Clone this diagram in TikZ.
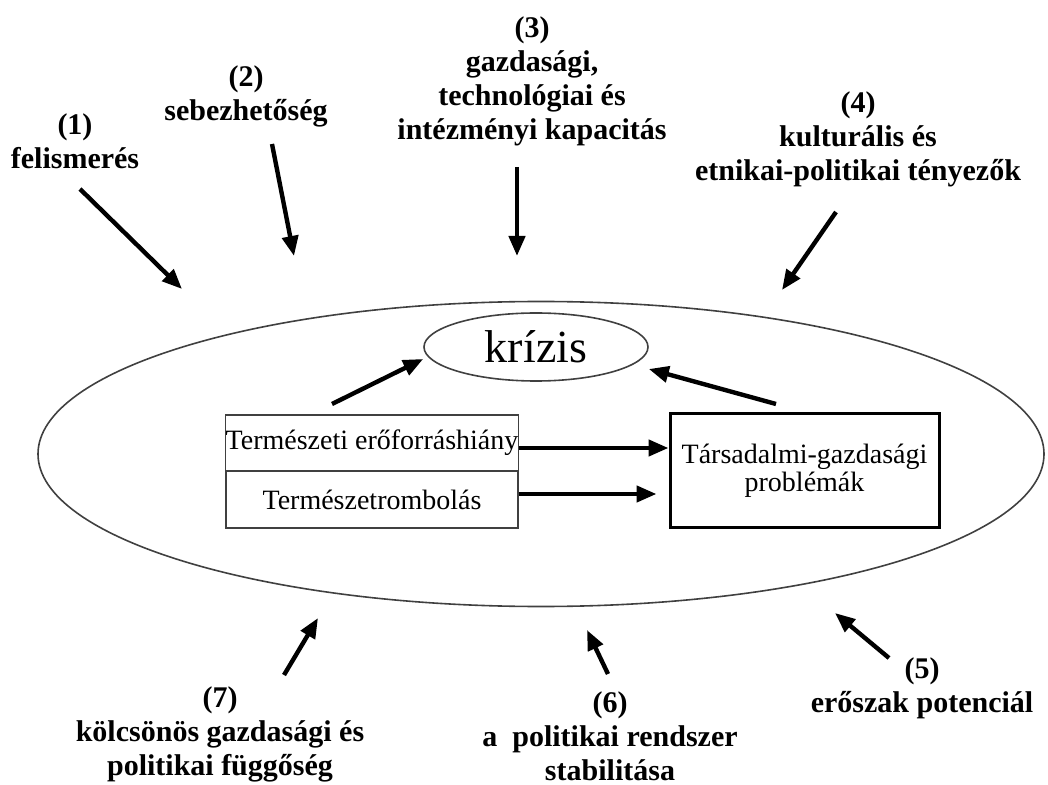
\documentclass[tikz,border=0pt]{standalone}
\usepackage{fontspec}
\setmainfont{Liberation Serif}
\usetikzlibrary{arrows.meta}
\usetikzlibrary{shapes}

\begin{document}
\begin{tikzpicture}[x=0.5pt,y=-0.5pt]
   \tikzset{Factor/.style={font=\bfseries\fontsize{15}{17}\selectfont, align=center}}
   \tikzset{Push/.style={-{Triangle[length=10pt,width=8pt]}, line width=2.2pt}}
   \tikzset{Row/.style={draw=black!75, line width=0.8pt, minimum width=146pt, minimum height=28.25pt,
      inner sep=0pt, font=\fontsize{14}{14}\selectfont}}
   \useasboundingbox (0,0) rectangle (1048,785);
   \draw[black!75, line width=0.8pt] (541,454) ellipse [x radius=251.5pt, y radius=76.25pt];
   \node[draw=black!75, ellipse, line width=0.8pt, inner sep=0pt, minimum width=112pt, minimum height=34pt,
      font=\fontsize{23}{23}\selectfont] (krizis) at (536,347) {krízis};
   \node[Row] (hiany) at (372,443) {Természeti erőforráshiány};
   \node[Row] (rombolas) at (372,499.5) {Természetrombolás};
   \node[draw, line width=1.5pt, minimum width=134.5pt, minimum height=56.5pt, align=center,
      font=\fontsize{14}{14}\selectfont] (problemak) at (804.5,470.5) {Társadalmi-gazdasági\\problémák};
   \node[Factor] (f1) at (75,141) {(1)\\felismerés};
   \node[Factor] (f2) at (246,96.5) {(2)\\sebezhetőség};
   \node[Factor] (f3) at (532,81) {(3)\\gazdasági,\\technológiai és\\intézményi kapacitás};
   \node[Factor] (f4) at (858,139) {(4)\\kulturális és\\etnikai-politikai tényezők};
   \node[Factor] (f5) at (922,688.5) {(5)\\erőszak potenciál};
   \node[Factor] (f6) at (610,736) {(6)\\a~ politikai rendszer\\stabilitása};
   \node[Factor] (f7) at (220,734) {(7)\\kölcsönös gazdasági és\\politikai függőség};
   \foreach \n/\sx/\sy/\ex/\ey in {1/80/189/182/289, 2/272/144/294/256, 3/517/167/517/256,
      4/836/212/782/290, 5/889/658/835/613, 6/608/674/587/630, 7/284/675/318/618}
   {
      \coordinate (s\n) at (\sx,\sy);
      \coordinate (e\n) at (\ex,\ey);
      \draw[Push] (s\n) -- (e\n);
   }
   \coordinate (lk) at (332,404);
   \coordinate (rk) at (776,404);
   \draw[Push] (lk) -- ([yshift=-6pt]krizis.west);
   \draw[Push] (rk) -- ([yshift=-11pt]krizis.east);
   \draw[Push] ([yshift=-2.5pt]hiany.east) -- ([yshift=-2.5pt]hiany.east -| problemak.west);
   \draw[Push, shorten >=6pt] ([yshift=2.75pt]rombolas.east) -- ([yshift=2.75pt]rombolas.east -| problemak.west);
\end{tikzpicture}
\end{document}
